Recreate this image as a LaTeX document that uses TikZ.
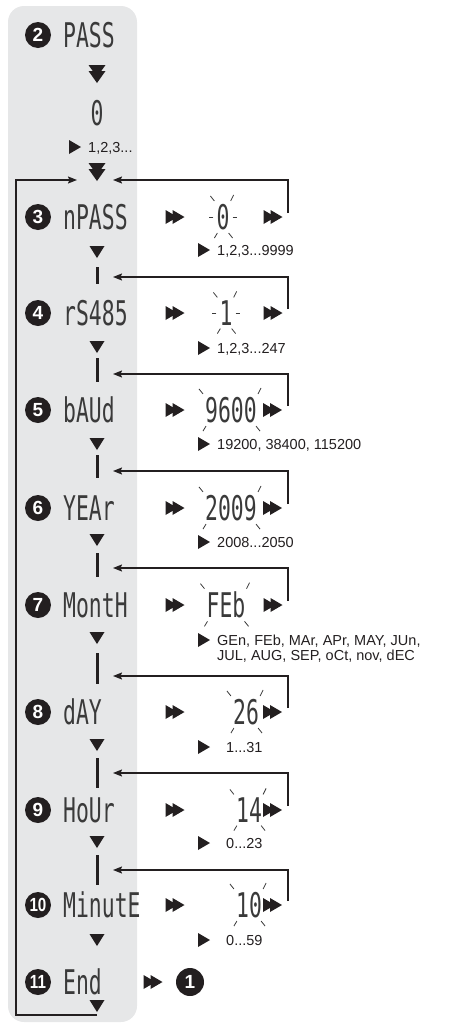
\documentclass[tikz,border=0pt]{standalone}
\usepackage{graphicx}
\usepackage{fontspec}
\setmainfont{Liberation Sans}
\newfontfamily\lcdfont{DejaVu Sans Mono}
\usetikzlibrary{arrows.meta,calc}
\definecolor{panel}{HTML}{E6E7E8}
\definecolor{lcdgray}{HTML}{3A3A3A}
\definecolor{ink}{HTML}{231F20}
\newcommand{\lcd}[1]{\scalebox{0.63}[1]{#1}}
\newcommand{\blinkcorner}[1]{%
  \draw[ray] ([shift={(-2pt,3pt)}]#1.north west) -- ++(-4pt,5pt);
  \draw[ray] ([shift={(1pt,3pt)}]#1.north east) -- ++(3pt,6pt);
  \draw[ray] ([shift={(1pt,-3pt)}]#1.south west) -- ++(-3pt,-5pt);
  \draw[ray] ([shift={(-1pt,-3pt)}]#1.south east) -- ++(4pt,-5pt);}
\newcommand{\blinkone}[1]{\blinkcorner{#1}%
  \draw[ray] ([xshift=-3pt]#1.west) -- ++(-4pt,0pt);
  \draw[ray] ([xshift=3pt]#1.east) -- ++(4pt,0pt);}
\begin{document}
\begin{tikzpicture}[x=1pt,y=-1pt,
  lcdtext/.style={font=\lcdfont\fontsize{34}{34}\selectfont, text=lcdgray, inner sep=0pt},
  stepnum/.style={circle, fill=ink, text=white, font=\bfseries\fontsize{19}{19}\selectfont, minimum size=26pt, inner sep=0pt},
  rangetxt/.style={font=\fontsize{14.5}{16}\selectfont, text=ink, anchor=base west, inner sep=0pt},
  loopline/.style={line width=1.4pt, draw=ink, -{Stealth[length=9pt,width=7pt,inset=1.5pt]}},
  ray/.style={draw=lcdgray, line width=0.8pt},
  bar/.style={rectangle, fill=ink, minimum width=3pt, inner sep=0pt},
  dtri/.pic={\fill[ink] (-7.5pt,6pt) -- (7.5pt,6pt) -- (0pt,-6pt) -- cycle;},
  ddtri/.pic={\fill[ink] (-8.5pt,9pt) -- (8.5pt,9pt) -- (0pt,-3pt) -- cycle;
              \fill[ink] (-8.5pt,3pt) -- (8.5pt,3pt) -- (0pt,-9pt) -- cycle;},
  rtri/.pic={\fill[ink] (-6pt,7pt) -- (6pt,0pt) -- (-6pt,-7pt) -- cycle;},
  drtri/.pic={\fill[ink] (-9.5pt,7pt) -- (2.5pt,0pt) -- (-9.5pt,-7pt) -- cycle;
              \fill[ink] (-2.5pt,7pt) -- (9.5pt,0pt) -- (-2.5pt,-7pt) -- cycle;}
]
\useasboundingbox (0,0) rectangle (462,1023);
\fill[panel, rounded corners=16pt] (8,6) rectangle (137,1022);

% row 2
\node[stepnum] (n2) at (38,35) {2};
\node[lcdtext, anchor=west] (l2) at (63,35) {\lcd{PASS}};
\pic at (97,74) {ddtri};
\node[lcdtext] (v2) at (97,113) {\lcd{0}};
\pic at (75,147) {rtri};
\node[rangetxt] (g2) at (88,152) {1,2,3...};
\pic at (97,172) {ddtri};
\coordinate (inL) at (77,180);
\coordinate (i3) at (113,180);

% row 3
\node[stepnum] (n3) at (38,217) {3};
\node[lcdtext, anchor=west] (l3) at (63,217) {\lcd{nPASS}};
\pic at (175,217) {drtri};
\node[lcdtext] (v3) at (223,217) {\lcd{0}};
\blinkone{v3}
\pic at (273,217) {drtri};
\coordinate (o3) at (288,213);
\draw[loopline] (o3) |- (i3);
\pic at (204,250) {rtri};
\node[rangetxt] (g3) at (217,255) {1,2,3...9999};
\pic at (97,252) {dtri};
\node[bar, minimum height=17pt] (b4) at (97,275.5) {};
\coordinate (i4) at (113,277);

% row 4
\node[stepnum] (n4) at (38,313) {4};
\node[lcdtext, anchor=west] (l4) at (63,313) {\lcd{rS485}};
\pic at (175,313) {drtri};
\node[lcdtext] (v4) at (226,313) {\lcd{1}};
\blinkone{v4}
\pic at (273,313) {drtri};
\coordinate (o4) at (288,309);
\draw[loopline] (o4) |- (i4);
\pic at (204,348) {rtri};
\node[rangetxt] (g4) at (217,353) {1,2,3...247};
\pic at (97,347) {dtri};
\node[bar, minimum height=24pt] (b5) at (97,370) {};
\coordinate (i5) at (113,374);

% row 5
\node[stepnum] (n5) at (38,410) {5};
\node[lcdtext, anchor=west] (l5) at (63,410) {\lcd{bAUd}};
\pic at (175,410) {drtri};
\node[lcdtext] (v5) at (231,410) {\lcd{9600}};
\blinkcorner{v5}
\pic at (272.5,410) {drtri};
\coordinate (o5) at (288,406);
\draw[loopline] (o5) |- (i5);
\pic at (204,444) {rtri};
\node[rangetxt] (g5) at (217,449) {19200, 38400, 115200};
\pic at (97,444) {dtri};
\node[bar, minimum height=23pt] (b6) at (97,466.5) {};
\coordinate (i6) at (113,471);

% row 6
\node[stepnum] (n6) at (38,508) {6};
\node[lcdtext, anchor=west] (l6) at (63,508) {\lcd{YEAr}};
\pic at (175,508) {drtri};
\node[lcdtext] (v6) at (231,508) {\lcd{2009}};
\blinkcorner{v6}
\pic at (272.5,508) {drtri};
\coordinate (o6) at (288,504);
\draw[loopline] (o6) |- (i6);
\pic at (204,542) {rtri};
\node[rangetxt] (g6) at (217,547) {2008...2050};
\pic at (97,540) {dtri};
\node[bar, minimum height=24pt] (b7) at (97,565) {};
\coordinate (i7) at (113,568);

% row 7
\node[stepnum] (n7) at (38,605) {7};
\node[lcdtext, anchor=west] (l7) at (63,605) {\lcd{MontH}};
\pic at (175,605) {drtri};
\node[lcdtext] (v7) at (226,605) {\lcd{FEb}};
\blinkcorner{v7}
\pic at (273,605) {drtri};
\coordinate (o7) at (288,601);
\draw[loopline] (o7) |- (i7);
\pic at (204,640) {rtri};
\node[rangetxt] (g7a) at (217,645) {GEn, FEb, MAr, APr, MAY, JUn,};
\node[rangetxt] (g7b) at (217,660) {JUL, AUG, SEP, oCt, nov, dEC};
\pic at (97,638) {dtri};
\node[bar, minimum height=31pt] (b8) at (97,668.5) {};
\coordinate (i8) at (113,676);

% row 8
\node[stepnum] (n8) at (38,712) {8};
\node[lcdtext, anchor=west] (l8) at (63,712) {\lcd{dAY}};
\pic at (175,712) {drtri};
\node[lcdtext] (v8) at (246,712) {\lcd{26}};
\blinkcorner{v8}
\pic at (272.5,712) {drtri};
\coordinate (o8) at (288,708);
\draw[loopline] (o8) |- (i8);
\pic at (204,747) {rtri};
\node[rangetxt] (g8) at (226,752) {1...31};
\pic at (97,745) {dtri};
\node[bar, minimum height=30pt] (b9) at (97,773) {};
\coordinate (i9) at (113,773);

% row 9
\node[stepnum] (n9) at (38,810) {9};
\node[lcdtext, anchor=west] (l9) at (63,810) {\lcd{HoUr}};
\pic at (175,810) {drtri};
\node[lcdtext] (v9) at (249,810) {\lcd{14}};
\blinkcorner{v9}
\pic at (272.5,810) {drtri};
\coordinate (o9) at (288,806);
\draw[loopline] (o9) |- (i9);
\pic at (204,843) {rtri};
\node[rangetxt] (g9) at (226,848) {0...23};
\pic at (97,842) {dtri};
\node[bar, minimum height=30pt] (b10) at (97,870) {};
\coordinate (i10) at (113,870);

% row 10
\node[stepnum] (n10) at (38,905) {\scalebox{0.8}[1]{10}};
\node[lcdtext, anchor=west] (l10) at (63,905) {\lcd{MinutE}};
\pic at (175,905) {drtri};
\node[lcdtext] (v10) at (249,905) {\lcd{10}};
\blinkcorner{v10}
\pic at (272.5,905) {drtri};
\coordinate (o10) at (288,901);
\draw[loopline] (o10) |- (i10);
\pic at (204,940) {rtri};
\node[rangetxt] (g10) at (226,945) {0...59};
\pic at (97,940) {dtri};

% row 11
\node[stepnum] (n11) at (38,982) {\scalebox{0.8}[1]{11}};
\node[lcdtext, anchor=west] (l11) at (63,982) {\lcd{End}};
\pic at (153,982) {drtri};
\node[stepnum, minimum size=28pt] (n1) at (190,982) {1};
\pic at (97,1006) {dtri};

% return loop
\coordinate (bl0) at (97,1015);
\coordinate (bl1) at (16,1015);
\coordinate (bl2) at (16,180);
\draw[loopline] (bl0) -- (bl1) -- (bl2) -- (inL);
\end{tikzpicture}
\end{document}
